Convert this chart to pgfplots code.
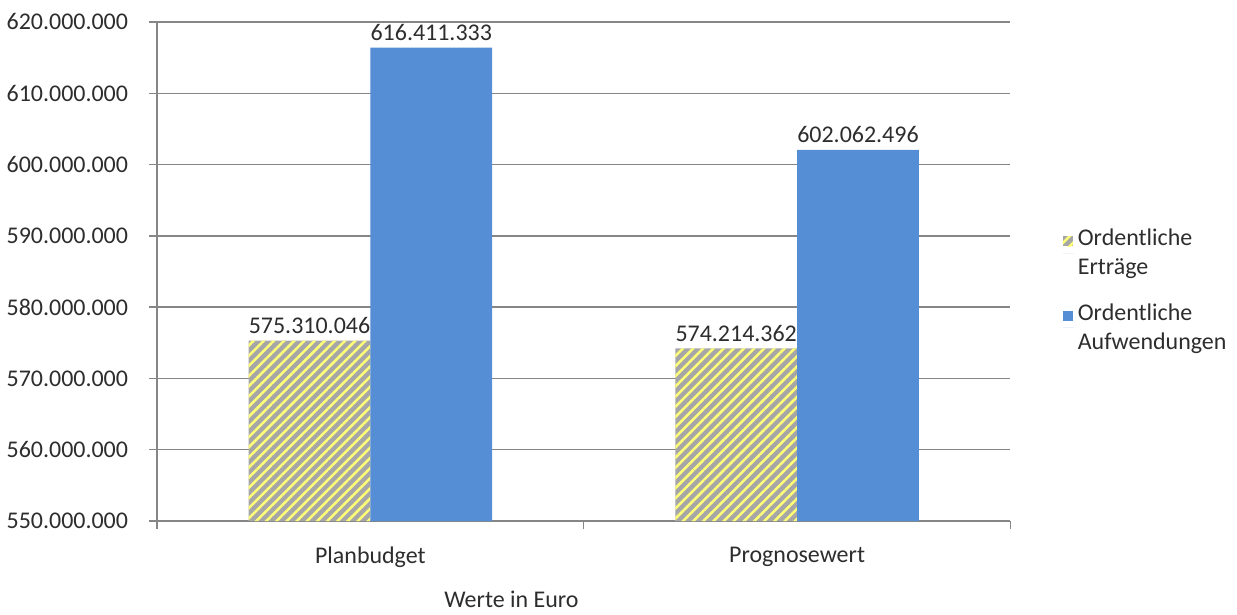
\documentclass[border=0pt]{standalone}
\usepackage{pgfplots}
\pgfplotsset{compat=1.18}
\usepackage{pgfplotstable}
\usepackage{fontspec}
\setmainfont{Carlito}
\usetikzlibrary{patterns.meta}

\definecolor{barblue}{RGB}{85,142,213}
\definecolor{stripegray}{RGB}{166,166,166}
\definecolor{stripeyellow}{RGB}{255,255,120}
\definecolor{gridgray}{RGB}{134,134,134}
\definecolor{txt}{RGB}{45,45,45}

% x: 0 = Planbudget, 1 = Prognosewert
\pgfplotstableread{
x y label
0 575310046 575.310.046
1 574214362 574.214.362
}\ertraege
\pgfplotstableread{
x y label
0 616411333 616.411.333
1 602062496 602.062.496
}\aufwendungen

\begin{document}
\begin{tikzpicture}[font=\fontsize{12}{14.5}\selectfont, text=txt]
\begin{axis}[
  scale only axis,
  width=427.5pt, height=250pt,
  ybar=0pt, bar width=61pt,
  xmin=-0.5, xmax=1.5,
  ymin=550000000, ymax=620000000,
  axis lines=left,
  axis line style={-, gridgray, line width=0.75pt},
  xtick={0,1},
  xticklabels={Planbudget,Prognosewert},
  major x tick style={draw=none},
  extra x ticks={-0.5,0.5,1.5},
  extra x tick labels={},
  extra x tick style={xtick align=outside, major tick length=4pt,
    major x tick style={draw=gridgray, line width=0.75pt}},
  xticklabel style={yshift=-7.5pt},
  ytick={550000000,560000000,570000000,580000000,590000000,600000000,610000000,620000000},
  yticklabels={550.000.000,560.000.000,570.000.000,580.000.000,590.000.000,600.000.000,610.000.000,620.000.000},
  yticklabel style={xshift=-7pt},
  ytick align=outside, major tick length=4pt,
  tick style={gridgray, line width=0.75pt},
  ymajorgrids,
  grid style={gridgray, line width=0.75pt},
  scaled y ticks=false,
  nodes near coords={\pgfplotspointmeta},
  point meta=explicit symbolic,
  nodes near coords style={font=\fontsize{12}{14.5}\selectfont, text=txt},
  legend style={draw=none, fill=none, at={(1.054,0.462)}, anchor=west,
    cells={align=left, anchor=west}, row sep=9pt,
    font=\fontsize{12}{14.5}\selectfont},
  legend image code/.code={%
    \path[#1] (0pt,3.5pt) rectangle (5pt,8.5pt);
    \path (0pt,0pt) -- (5.5pt,0pt);},
  clip=false,
]
\addplot[draw=none, fill=stripegray,
  postaction={pattern={Lines[angle=45,distance=3.6pt,line width=1.25pt]},
  pattern color=stripeyellow}]
  table[x=x, y=y, meta=label] {\ertraege};
\addlegendentry{Ordentliche\\Erträge}
\addplot[draw=none, fill=barblue]
  table[x=x, y=y, meta=label] {\aufwendungen};
\addlegendentry{Ordentliche\\Aufwendungen}
\coordinate (sw) at (rel axis cs:0,0);
\end{axis}
\node[anchor=base] at ([shift={(177.5pt,-43.5pt)}]sw) {Werte in Euro};
\path ([shift={(-77.5pt,-45.5pt)}]sw) rectangle ++(618.5pt,306.5pt);
\end{tikzpicture}
\end{document}
